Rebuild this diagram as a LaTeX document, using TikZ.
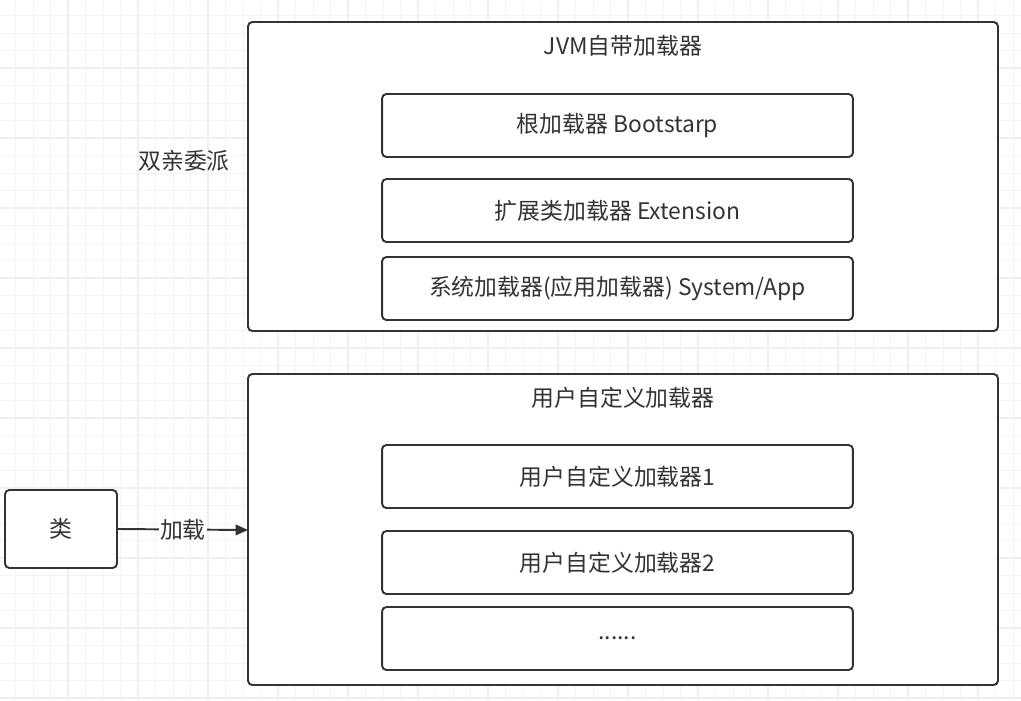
\documentclass[tikz,border=0pt]{standalone}
\usepackage{fontspec}
\setmainfont{Noto Sans CJK SC}
\usetikzlibrary{arrows.meta}
\definecolor{boxLine}{HTML}{333333}
\definecolor{gridLine}{HTML}{EFEFEF}
\newcommand{\moreDots}{......}
\begin{document}
\begin{tikzpicture}
[x=0.02cm,y=-0.02cm,%
  gridMinor/.style={line width=0.4pt,color=gridLine!70},%
  gridMajor/.style={line width=0.7pt,color=gridLine},%
  outerBox/.style={draw=boxLine,line width=1.1pt,rounded corners=2.5pt,fill=white},%
  innerBox/.style={draw=boxLine,line width=1.1pt,rounded corners=2.5pt,fill=white,%
    minimum width=9.42cm,minimum height=1.26cm,inner sep=0pt},%
  labelText/.style={text=boxLine,font=\fontsize{13}{15}\selectfont,inner sep=1pt},%
  loadArrow/.style={-{Triangle[length=7pt,width=6pt]},line width=1.1pt,draw=boxLine}]
\useasboundingbox (0,0) rectangle (1021,700);
%% background grid
\foreach \i in {0,...,58}
{
  \draw[gridMinor] ({\i*17.5-2},0) -- ({\i*17.5-2},700);
}
\foreach \i in {0,...,40}
{
  \draw[gridMinor] (0,{\i*17.5-2}) -- (1021,{\i*17.5-2});
}
\foreach \i in {0,...,15}
{
  \draw[gridMajor] ({\i*70-2},0) -- ({\i*70-2},700);
}
\foreach \i in {0,...,10}
{
  \draw[gridMajor] (0,{\i*70-2}) -- (1021,{\i*70-2});
}
%% outer boxes
\draw[outerBox] (248,22) rectangle (998,331);
\draw[outerBox] (248,374) rectangle (998,685);
\coordinate (jvmLeft) at (248,530);
\node (jvmTitle) at (623,46) [labelText] {JVM自带加载器};
\node (userTitle) at (623,398) [labelText] {用户自定义加载器};
%% inner boxes
\foreach \nodename/\y/\txt in {boot/125.5/{根加载器 Bootstarp},
  ext/210.5/{扩展类加载器 Extension},
  app/288.5/{系统加载器(应用加载器) System/App},
  user1/476.5/{用户自定义加载器1},
  user2/562.5/{用户自定义加载器2},
  more/638.5/{\moreDots}}
{
  \node (\nodename) at (617.5,\y) [innerBox,labelText] {\txt};
}
%% left side
\node (parent) at (184,161) [labelText] {双亲委派};
\node (cls) at (61,529) [outerBox,labelText,minimum width=2.24cm,minimum height=1.56cm] {类};
\draw[loadArrow] (cls.east) -- node[labelText,fill=white,inner sep=0.5pt] {加载} (jvmLeft);
\end{tikzpicture}
\end{document}
